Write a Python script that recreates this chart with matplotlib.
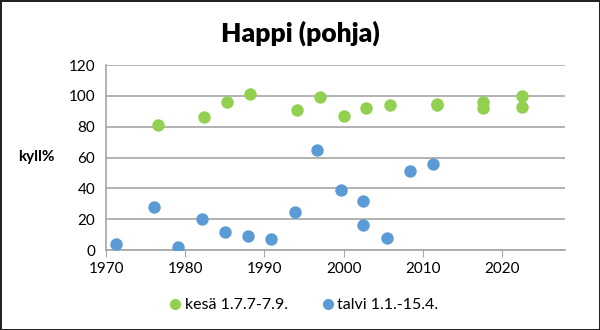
import matplotlib
matplotlib.use('Agg')
import matplotlib.pyplot as plt
from matplotlib.lines import Line2D

plt.rcParams['font.family'] = ['Lato', 'DejaVu Sans']

# kesä 1.7.-7.9.
summer_year = [1976.5, 1982.4, 1985.3, 1988.2, 1994.1, 1997.0, 2000.0,
               2002.8, 2005.9, 2011.8, 2011.8, 2017.6, 2017.6, 2022.5, 2022.5]
summer_val = [81, 86, 96, 101, 91, 99, 87, 92, 94, 95, 94, 96, 92, 100, 93]

# talvi 1.1.-15.4.
winter_year = [1971.3, 1976.1, 1979.1, 1982.1, 1985.0, 1987.9, 1990.8, 1993.8,
               1996.7, 1999.7, 2002.4, 2002.5, 2005.5, 2008.4, 2011.3]
winter_val = [4, 28, 2, 20, 12, 9, 7, 25, 65, 39, 32, 16, 8, 51, 56]

x_ticks = [1970, 1980, 1990, 2000, 2010, 2020]
y_ticks = [0, 20, 40, 60, 80, 100, 120]

green = '#92D050'
blue = '#5B9BD5'

fig = plt.figure(figsize=(6, 3.3), dpi=100)
fig.patch.set_edgecolor('#222222')
fig.patch.set_linewidth(2)
ax = fig.add_axes([0.177, 0.242, 0.765, 0.561])

ax.scatter(summer_year, summer_val, s=80, color=green, zorder=3, linewidths=0)
ax.scatter(winter_year, winter_val, s=80, color=blue, zorder=3, linewidths=0)

ax.set_xlim(1970, 2028)
ax.set_ylim(0, 120)
ax.set_xticks(x_ticks)
ax.set_yticks(y_ticks)
ax.grid(axis='y', color='#A6A6A6', linewidth=1.2)
ax.set_axisbelow(True)
for s in ['top', 'right']:
    ax.spines[s].set_visible(False)
ax.spines['left'].set_color('#A6A6A6')
ax.spines['bottom'].set_color('#A6A6A6')
ax.spines['left'].set_linewidth(1.2)
ax.spines['bottom'].set_linewidth(1.2)
ax.tick_params(axis='y', length=0, labelsize=11, pad=8)
ax.tick_params(axis='x', length=5, color='#A6A6A6', labelsize=11, direction='out')

fig.text(0.5, 0.90, 'Happi (pohja)', ha='center', va='center',
         fontsize=19, fontweight='heavy')
fig.text(0.03, 0.525, 'kyll%', ha='left', va='center', fontsize=11,
         fontweight='bold')

handles = [Line2D([], [], marker='o', linestyle='', color=green, markersize=7),
           Line2D([], [], marker='o', linestyle='', color=blue, markersize=7)]
fig.legend(handles, ['kesä 1.7.7-7.9.', 'talvi 1.1.-15.4.'], loc='center',
           bbox_to_anchor=(0.505, 0.075), ncol=2, frameon=False, fontsize=11.5,
           handletextpad=0.1, columnspacing=2.0, handlelength=1.0)

fig.savefig('out.png', dpi=100)
